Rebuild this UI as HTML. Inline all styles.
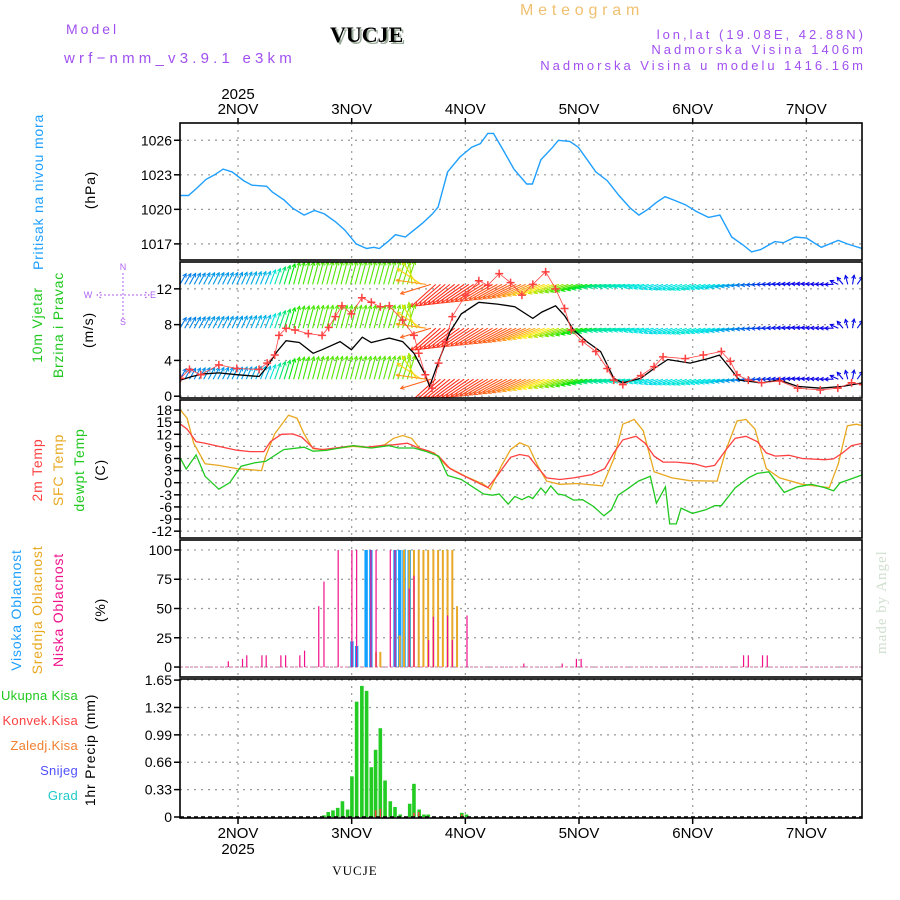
<!DOCTYPE html>
<html><head><meta charset="utf-8"><style>
html,body{margin:0;padding:0;background:#fff;}
svg{display:block;font-family:"Liberation Sans",sans-serif;}
</style></head><body>
<svg id="chart" width="900" height="900" viewBox="0 0 900 900" xmlns="http://www.w3.org/2000/svg">
<text x="520" y="15" font-size="16" fill="#f0c070" letter-spacing="4.8">Meteogram</text>
<text x="66" y="34" font-size="14" fill="#a050f0" letter-spacing="3">Model</text>
<text x="64" y="63" font-size="15" fill="#a050f0" letter-spacing="4.2">wrf−nmm_v3.9.1 e3km</text>
<text x="332" y="44" font-size="22" font-weight="bold" font-family="Liberation Serif,serif" fill="#9a9">VUCJE</text>
<text x="330" y="42" font-size="22" font-weight="bold" font-family="Liberation Serif,serif" fill="#000">VUCJE</text>
<text x="866" y="39" font-size="13" fill="#a050f0" text-anchor="end" letter-spacing="3">lon,lat (19.08E, 42.88N)</text>
<text x="866" y="54" font-size="13" fill="#a050f0" text-anchor="end" letter-spacing="3">Nadmorska Visina 1406m</text>
<text x="866" y="70" font-size="13" fill="#a050f0" text-anchor="end" letter-spacing="3">Nadmorska Visina u modelu 1416.16m</text>
<text x="238" y="99" font-size="15" fill="#000" text-anchor="middle">2025</text>
<text x="238" y="854" font-size="15" fill="#000" text-anchor="middle">2025</text>
<text x="355" y="875" font-size="13" font-family="Liberation Serif,serif" fill="#000" text-anchor="middle" letter-spacing="1">VUCJE</text>
<text transform="translate(886,654) rotate(-90)" font-size="15" font-family="Liberation Serif,serif" fill="#cfe0cf" letter-spacing="1">made by Angel</text>
<g id="plots"></g>
</svg>
<script>
// ---- data (hours from 1 NOV 12UTC) ----
const presHours=[0,1.8,3.7,5.5,7.3,9.1,11,13.4,15.2,18.3,19.5,22,23.8,26.2,28.4,30.5,32.9,34.8,37.2,39.4,40.9,42.1,43.9,45.5,47.6,49.4,51.2,53.3,54.5,56.5,59.1,61.6,63.4,65,66.2,68.3,70.5,73.2,74.4,76.2,78.7,79.9,82.3,84.1,86,87.8,90.2,92.7,95.1,96.9,98.8,100.6,102.4,104.3,106.7,109.1,111.6,114,116.5,118.9,120.7,122.6,125.6,127.4,129.9,132.3,135.4,139,140.9,144];
const presVals=[1021.2,1021.2,1021.9,1022.6,1023.0,1023.5,1023.25,1022.5,1022.1,1022.0,1021.5,1020.8,1020.1,1019.5,1019.9,1019.6,1018.9,1018.2,1017.0,1016.6,1016.7,1016.6,1017.2,1017.8,1017.6,1018.2,1018.8,1019.6,1020.2,1023.25,1024.55,1025.4,1025.7,1026.6,1026.6,1025.1,1023.5,1022.2,1022.2,1024.3,1025.4,1026.0,1025.9,1025.4,1024.3,1023.25,1022.5,1021.2,1020.1,1019.5,1020.0,1020.6,1021.1,1020.8,1020.4,1019.8,1019.3,1019.5,1017.6,1016.9,1016.3,1016.5,1017.2,1017.1,1017.6,1017.5,1016.7,1017.3,1017.0,1016.6];
const presTicks=[1017,1020,1023,1026];

const windHours=[0.1,2.5,5.3,8.2,12,16.7,18.1,20.5,22.4,25.2,28.1,30,33.8,36.2,38.5,40.4,44.2,47,49.4,51.8,52.7,54.6,57,59.4,63.1,67,70.7,74.5,76.4,79.3,81.2,83.1,85.9,88.8,91.6,93.5,97.3,100.1,103,107.7,111.5,113.9,116.2,118.1,122.8,126.6,130.4,135.2,139.9,144.2];
const windSpeed=[1.8,2.2,2.5,2.6,2.4,2.2,3.1,5.0,6.2,6.0,4.8,5.2,6.1,5.2,6.6,6.0,6.5,6.1,4.8,2.4,1.1,3.9,7.2,9.2,10.5,10.3,10.0,8.7,9.4,10.1,9.0,7.4,6.1,5.0,2.0,1.5,2.0,3.1,4.1,3.7,4.2,4.6,3.1,1.8,1.5,1.8,1.1,0.9,1.1,1.5];
const gustHours=[0.1,2,4.4,8.2,12,16.7,18.4,20,20.9,22.4,24.3,27.1,30,31.4,32.8,34.2,36.2,38.4,40.4,42.3,44.2,47,49.4,50.4,51.8,53.2,54.6,56,57.5,60.3,63.1,65,67.4,69.8,72.2,74.5,77.2,79.3,81.2,82.6,85,87.8,90.2,91.6,93.5,97.3,100.1,102,106.7,110.5,114.3,116.2,117.6,120,122.8,126.6,130.4,135.2,138.9,141.8,144.2];
const gustVals=[2.0,3.0,2.4,3.5,3.1,3.0,3.7,4.6,6.8,7.6,7.4,7.0,6.8,7.7,8.9,10.1,9.2,11.0,10.5,10.0,10.1,8.5,6.8,4.8,2.4,0.9,3.7,6.1,8.9,11.3,12.9,12.4,13.7,12.7,11.3,12.5,13.9,12.0,9.8,7.4,6.1,5.0,3.1,1.8,1.3,2.3,3.3,4.4,4.2,4.6,5.0,3.9,2.4,1.8,1.5,1.7,0.9,0.7,0.9,1.5,1.3];
// arrow rows (every 6h)
const arrowHours=[0,6,12,18,24,30,36,42,48,54,60,66,72,78,84,90,96,102,108,114,120,126,132,138,144];
const arrowSpeed=[3,3.5,3.5,4,9,9.5,9.5,9.5,10,15,15,14.5,14,12,9,6,5,4.5,5,4.5,3,1.5,1,1,1.5];
const arrowDir=[60,62,65,68,75,75,75,75,72,222,215,210,205,200,198,190,190,200,200,195,185,178,175,180,30];
const arrowRows=[12.5,7.6,1.9];
const windTicks=[0,4,8,12];

const t2Hours=[0.1,1.5,3.4,5.3,8.2,12,14.8,17.7,19.1,21.4,23.8,25.7,28.1,30,32.8,36.6,39.5,42.3,45.1,48,50.4,52.7,54.6,57,59.4,62.2,65,66.9,69.8,71.7,73.6,75.5,77.4,80.2,83.1,86.9,89.7,91.6,93.5,96.3,98.2,100.1,102,104.8,108.6,111,112.9,115.3,117.2,119.5,121.9,123.8,125.7,128.6,131.4,136.1,138,139.9,141.8,144.2];
const t2Vals=[14.5,13.3,10.2,9.8,9.0,8.05,7.7,7.7,10.2,12.0,12.1,11.3,8.6,8.2,8.6,9.2,8.8,9.2,9.4,9.8,8.6,7.8,6.6,3.5,2.0,0.4,-1.2,1.6,6.3,7.0,6.6,3.8,1.2,0.8,1.2,2.0,3.5,7.4,10.6,11.5,9.8,6.6,5.1,5.1,4.7,3.9,4.3,8.2,11.0,11.5,10.2,7.4,6.6,6.8,6.0,5.7,5.9,7.4,9.2,9.8];
const sfcHours=[0.1,1.5,2.9,5.3,8.2,12,17.2,18.1,20,22.9,24.7,26.2,28.1,30.9,33.8,36.6,40.4,43.2,45.1,47,48.9,50.8,53.7,56.5,60.3,64.1,65.5,67.9,69.8,71.7,73.6,75.5,77.4,80.2,84,89.2,91.6,93.5,95.9,97.8,100.1,103.9,107.7,113.4,115.3,117.6,119.5,121.4,123.8,126.6,131.4,137.1,139,140.9,142.8,144.2];
const sfcVals=[18,16,9.8,4.7,4.3,3.5,3.0,6.6,12.1,16.7,16.0,12.1,8.4,8.2,8.6,9.0,8.6,9.4,11.0,11.7,11.0,8.2,7.4,3.9,1.6,-0.4,-1.6,4.3,8.2,9.9,9.0,4.3,0.4,-0.4,-0.2,-0.8,5.9,14.5,15.7,12.9,2.7,1.2,0.5,0.4,8.2,15.3,15.7,13.3,3.5,1.2,-0.4,-1.2,4.7,14.1,14.5,14.1];
const dewHours=[0.1,1.3,3.4,5.3,8.2,10.5,12.9,15.7,18.1,21.9,26.2,28.1,30.9,36.6,40.4,44.2,46.1,49.4,51.8,54.6,56.5,59.4,64.1,66,67.4,69.3,70.7,72.2,73.6,74.5,76.2,77.2,78.3,79.8,81.2,83.1,85,87.3,89.5,91.1,92.5,94.4,96.8,99.3,100.6,102.5,103.4,104.8,105.8,108.2,111,112.9,114.3,117.2,120,121.9,124.3,127.6,130.4,133.3,136.1,138,139.4,141.8,144.2];
const dewVals=[6.0,3.4,6.9,1.6,-1.6,0,4.1,4.9,5.3,8.2,8.8,7.8,8.0,9.2,8.6,9.2,8.6,8.6,7.8,6.6,1.8,0.8,-2.8,-3.1,-2.8,-5.3,-3.4,-4.2,-3.4,-3.9,-1.3,-2.6,-0.8,-2.8,-3.1,-4.3,-4.2,-5.9,-8.2,-6.7,-3.1,-1.6,0.4,1.6,-5.1,-1.0,-10.2,-10.2,-6.3,-7.6,-6.7,-5.7,-5.7,-1.3,1.2,2.3,2.7,-2.4,-1.0,-0.4,-1.2,-2.0,0,1.0,2.0];
const tempTicks=[-12,-9,-6,-3,0,3,6,9,12,15,18];

const lowHours=[10.2,13.2,14.1,17.3,18.2,21.3,22.3,25.3,26.3,29.3,30.4,33.4,36.3,37.3,40.3,41.4,44.4,45.4,48.4,49.4,52.5,53.5,56.5,57.5,60.6,72.6,80.7,83.7,84.7,119,120,123,124];
const lowVals=[5,7,10,10,10,10,10,10,14,52,73,100,100,100,100,100,100,100,67,78,23,43,44,23,44,3,3,7,7,10,10,10,10];
const midHours=[41.4,42.3,46.4,47.3,48.4,49.4,50.4,51.4,52.4,53.5,54.5,55.5,56.5,57.5,58.5];
const midVals=[13,13,27,100,100,100,100,100,100,100,100,100,100,100,52];
const highHours=[36.3,37.3,39.3,40.3,45.4,46.4,47.3,48.4];
const highVals=[22,18,100,100,100,100,100,100];
const cloudTicks=[0,25,50,75,100];

const rainHours=[30.4,31.3,32.3,33.3,34.3,35.4,36.3,37.3,38.4,39.4,40.4,41.3,42.3,43.3,44.4,45.4,46.5,48.5,49.4,50.5,51.5,52.4,59.5,60.5];
const rainVals=[0.02,0.06,0.08,0.11,0.19,0.09,0.49,1.39,1.58,1.52,0.6,0.81,1.07,0.44,0.19,0.12,0.03,0.16,0.4,0.09,0.03,0.03,0.05,0.03];
const convHours=[41.3,42.3,49.4,50.4,59.5];
const convVals=[0.08,0.1,0.05,0.06,0.03];
const precipTicks=["0","0.33","0.66","0.99","1.32","1.65"];
const dayLabels=["2NOV","3NOV","4NOV","5NOV","6NOV","7NOV"];

// ---- geometry ----
const NS="http://www.w3.org/2000/svg";
const X0=180,X1=862,PXH=4.736;
const X=h=>X0+h*PXH;
const panels={
 pres:{top:123,bot:260,min:1015.6,max:1027.5},
 wind:{top:262,bot:398,min:-0.2,max:15},
 temp:{top:400,bot:538,min:-13.7,max:20.5},
 cloud:{top:540,bot:677,min:-8.5,max:108.5},
 precip:{top:679,bot:818,min:-0.012,max:1.663}
};
const Yf=p=>v=>p.bot-(v-p.min)/(p.max-p.min)*(p.bot-p.top);
const root=document.getElementById('plots');
function el(tag,attrs,parent){const e=document.createElementNS(NS,tag);for(const k in attrs)e.setAttribute(k,attrs[k]);(parent||root).appendChild(e);return e;}

const defs=el('defs',{});
for(const k in panels){const p=panels[k];const c=el('clipPath',{id:'clip-'+k},defs);el('rect',{x:X0,y:p.top,width:X1-X0,height:p.bot-p.top},c);}

function grid(key,ticks,labels){
 const p=panels[key],Y=Yf(p);
 const g=el('g',{});
 
 
 ticks.forEach((t,i)=>{
  const y=Y(t);
  const gl=el('line',{x1:X0,x2:X1,y1:y,y2:y,stroke:'#999','stroke-dasharray':'2,5','stroke-width':1.2},g);
  
  
  el('line',{x1:X0-6,x2:X0,y1:y,y2:y,stroke:'#000','stroke-width':1.5},g);
  const tl=el('text',{x:X0-8,y:y+5,'font-size':14,'text-anchor':'end',fill:'#000'},g);
  tl.textContent=labels?labels[i]:t;
  
  
 });
 for(let d=0;d<6;d++){
  const x=X(12.25+24*d);
  el('line',{x1:x,x2:x,y1:p.top,y2:p.bot,stroke:'#999','stroke-dasharray':'2,5','stroke-width':1.2},g);
 }
}
function frame(key){
 const p=panels[key];
 const r=el('rect',{x:X0,y:p.top,width:X1-X0,height:p.bot-p.top,fill:'none',stroke:'#000','stroke-width':1.6});
 
 
}
function line(key,hs,vs,color,name,w){
 const Y=Yf(panels[key]);
 const d=hs.map((h,i)=>(i?'L':'M')+X(h).toFixed(1)+','+Y(vs[i]).toFixed(1)).join('');
 const pth=el('path',{d:d,fill:'none',stroke:color,'stroke-width':w||1.3,'clip-path':'url(#clip-'+key+')'});
 
 
}
function bars(key,hs,vs,color,w,name){
 const Y=Yf(panels[key]);const y0=Y(0);
 hs.forEach((h,i)=>{
  const y=Y(vs[i]);
  const b=el('rect',{x:X(h)-w/2,y:y,width:w,height:Math.max(0,y0-y),fill:color});
  
  
 });
}
function interp(hs,vs,h){if(h<=hs[0])return vs[0];for(let i=1;i<hs.length;i++){if(h<=hs[i]){const t=(h-hs[i-1])/(hs[i]-hs[i-1]);return vs[i-1]+t*(vs[i]-vs[i-1]);}}return vs[vs.length-1];}

// pressure
grid('pres',presTicks);
line('pres',presHours,presVals,'#1e9fff','pressure-line',1.4);
frame('pres');

// wind
grid('wind',windTicks);
(function(){
 const p=panels.wind,Y=Yf(p);
 const g=el('g',{'clip-path':'url(#clip-wind)'});
 
 
 arrowRows.forEach(rv=>{
  for(let h=0;h<=144;h+=1){
   const s=interp(arrowHours,arrowSpeed,h);
   let dir=interp(arrowHours,arrowDir,h)*Math.PI/180;
   const L=7+s*1.75;
   const x0=X(h),y0=Y(rv);
   const x1=x0+L*Math.cos(dir),y1=y0-L*Math.sin(dir);
   const hue=Math.max(0,Math.min(280,260-s*17));
   const col='hsl('+hue+',100%,'+(hue<60?55:45)+'%)';
   el('line',{x1:x0,y1:y0,x2:x1,y2:y1,stroke:col,'stroke-width':1.1},g);
   const a1=dir+Math.PI-0.5,a2=dir+Math.PI+0.5;
   el('path',{d:`M${x1+4*Math.cos(a1)},${y1-4*Math.sin(a1)}L${x1},${y1}L${x1+4*Math.cos(a2)},${y1-4*Math.sin(a2)}`,fill:'none',stroke:col,'stroke-width':1},g);
  }
 });
})();
line('wind',windHours,windSpeed,'#000','wind-speed-line',1.3);
line('wind',gustHours,gustVals,'#ff4040','wind-gust-line',0.8);
(function(){
 const Y=Yf(panels.wind);
 gustHours.forEach((h,i)=>{
  const x=X(h),y=Y(gustVals[i]);
  const c=el('path',{d:`M${x-4},${y}H${x+4}M${x},${y-4}V${y+4}`,stroke:'#ff4040','stroke-width':1.5,'clip-path':'url(#clip-wind)'});
  
  
 });
})();
frame('wind');

// temp
grid('temp',tempTicks);
line('temp',sfcHours,sfcVals,'#e8a820','sfc-temp-line',1.3);
line('temp',t2Hours,t2Vals,'#ff4040','t2m-line',1.3);
line('temp',dewHours,dewVals,'#20c820','dewpoint-line',1.3);
frame('temp');

// cloud
grid('cloud',cloudTicks);
(function(){const Y=Yf(panels.cloud);const b=el('line',{x1:X0,x2:X1,y1:Y(0),y2:Y(0),stroke:'#e0a0c0','stroke-dasharray':'3,2','stroke-width':1.5});})();
bars('cloud',highHours,highVals,'#10a0ff',3.4,'high-cloud-bar');
bars('cloud',midHours,midVals,'#e8a828',2,'mid-cloud-bar');
bars('cloud',lowHours,lowVals,'#f0108a',1.2,'low-cloud-bar');
frame('cloud');

// precip
grid('precip',[0,0.33,0.66,0.99,1.32,1.65],precipTicks);
bars('precip',rainHours,rainVals,'#22cc22',3.6,'total-precip-bar');
bars('precip',convHours,convVals,'#ff4040',1.5,'convective-precip-bar');
(function(){const Y=Yf(panels.precip);const b=el('line',{x1:X0,x2:X1,y1:Y(0),y2:Y(0),stroke:'#000','stroke-dasharray':'4,3','stroke-width':1.5});})();
frame('precip');

// time axes
dayLabels.forEach((lab,d)=>{
 const x=X(12.25+24*d);
 el('line',{x1:x,x2:x,y1:118,y2:123,stroke:'#000','stroke-width':1.5});
 el('line',{x1:x,x2:x,y1:818,y2:824,stroke:'#000','stroke-width':1.5});
 const t=el('text',{x:x,y:114,'font-size':15,'text-anchor':'middle',fill:'#000'});
 t.textContent=lab;
 
 
 const b=el('text',{x:x,y:838,'font-size':15,'text-anchor':'middle',fill:'#000'});
 b.textContent=lab;
 
 
});

function vtext(x,y,txt,color,name,size){
 const t=el('text',{transform:`translate(${x},${y}) rotate(-90)`,'font-size':size||14,'text-anchor':'middle',fill:color,'letter-spacing':0.8});
 t.textContent=txt;
 
 
}
vtext(43,192,'Pritisak na nivou mora','#1e9fff','pressure-title');
vtext(95,190,'(hPa)','#000','pressure-unit');
vtext(42,325,'10m Vjetar','#20c820','wind-title-1');
vtext(63,325,'Brzina i Pravac','#20c820','wind-title-2');
vtext(93,330,'(m/s)','#000','wind-unit');
vtext(42,470,'2m Temp','#ff4040','t2m-title');
vtext(63,470,'SFC Temp','#e8a820','sfc-title');
vtext(84,470,'dewpt Temp','#20c820','dew-title');
vtext(105,470,'(C)','#000','temp-unit');
vtext(21,610,'Visoka Oblacnost','#1e9fff','high-cloud-title');
vtext(42,610,'Srednja Oblacnost','#e8a820','mid-cloud-title');
vtext(63,610,'Niska Oblacnost','#f0108a','low-cloud-title');
vtext(105,610,'(%)','#000','cloud-unit');
vtext(95,750,'1hr Precip (mm)','#000','precip-unit');
[['Ukupna Kisa','#20c820',700],['Konvek.Kisa','#ff4040',725],['Zaledj.Kisa','#f08030',750],['Snijeg','#5050ff',775],['Grad','#20c8c8',800]].forEach(([t,c,y])=>{
 const e=el('text',{x:78,y:y,'font-size':13,'text-anchor':'end',fill:c,'letter-spacing':0.3});
 e.textContent=t;
 
 
});
(function(){
 const g=el('g',{fill:'#b060f0','font-size':9,stroke:'none'});
 
 
 [['N',123,270],['E',153,298],['W',88,298],['S',123,325]].forEach(([t,x,y])=>{const e=el('text',{x:x,y:y,'text-anchor':'middle'},g);e.textContent=t;});
 el('path',{d:'M123,273V320M100,295H146M101,292L97,295L101,298M145,292L149,295L145,298',stroke:'#b060f0','stroke-dasharray':'2,2',fill:'none'},g);
})();
</script>
</body></html>
